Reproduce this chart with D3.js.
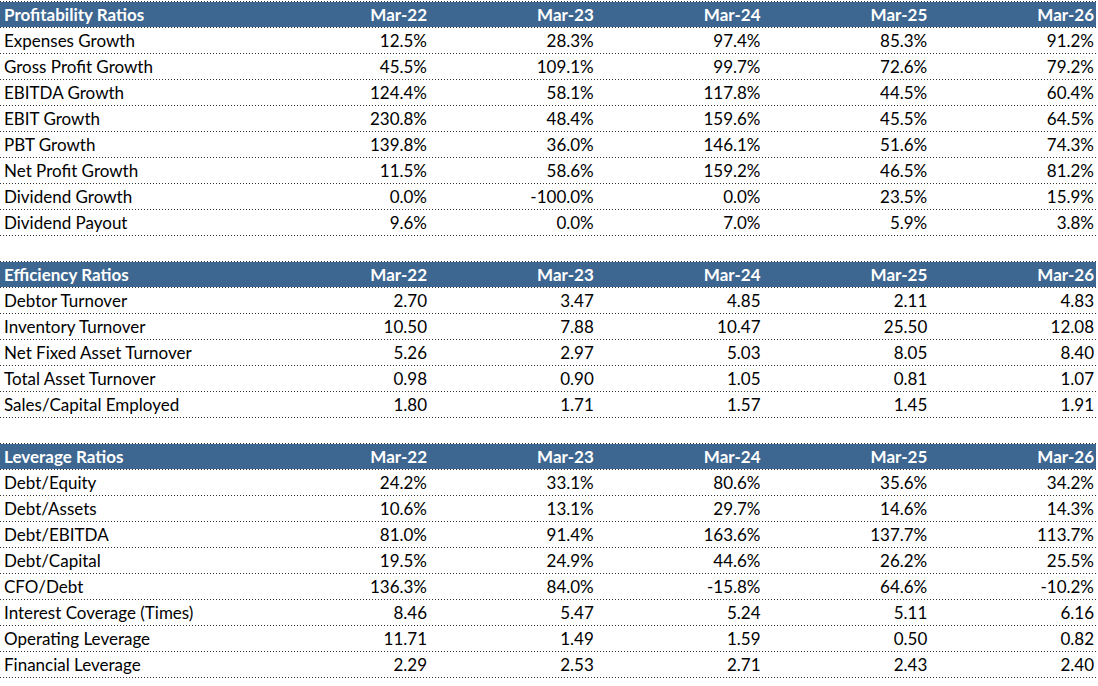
<!DOCTYPE html>
<html><head><meta charset="utf-8">
<script src="https://cdn.jsdelivr.net/npm/d3@7"></script>
<style>body{margin:0;background:#fff}</style></head>
<body><svg id="c" width="1098" height="686"></svg>
<script>
const periods = ["Mar-22","Mar-23","Mar-24","Mar-25","Mar-26"];
const profitabilityLabels = ["Expenses Growth","Gross Profit Growth","EBITDA Growth","EBIT Growth","PBT Growth","Net Profit Growth","Dividend Growth","Dividend Payout"];
const profitabilityValues = [
 ["12.5%","28.3%","97.4%","85.3%","91.2%"],
 ["45.5%","109.1%","99.7%","72.6%","79.2%"],
 ["124.4%","58.1%","117.8%","44.5%","60.4%"],
 ["230.8%","48.4%","159.6%","45.5%","64.5%"],
 ["139.8%","36.0%","146.1%","51.6%","74.3%"],
 ["11.5%","58.6%","159.2%","46.5%","81.2%"],
 ["0.0%","-100.0%","0.0%","23.5%","15.9%"],
 ["9.6%","0.0%","7.0%","5.9%","3.8%"]];
const efficiencyLabels = ["Debtor Turnover","Inventory Turnover","Net Fixed Asset Turnover","Total Asset Turnover","Sales/Capital Employed"];
const efficiencyValues = [
 ["2.70","3.47","4.85","2.11","4.83"],
 ["10.50","7.88","10.47","25.50","12.08"],
 ["5.26","2.97","5.03","8.05","8.40"],
 ["0.98","0.90","1.05","0.81","1.07"],
 ["1.80","1.71","1.57","1.45","1.91"]];
const leverageLabels = ["Debt/Equity","Debt/Assets","Debt/EBITDA","Debt/Capital","CFO/Debt","Interest Coverage (Times)","Operating Leverage","Financial Leverage"];
const leverageValues = [
 ["24.2%","33.1%","80.6%","35.6%","34.2%"],
 ["10.6%","13.1%","29.7%","14.6%","14.3%"],
 ["81.0%","91.4%","163.6%","137.7%","113.7%"],
 ["19.5%","24.9%","44.6%","26.2%","25.5%"],
 ["136.3%","84.0%","-15.8%","64.6%","-10.2%"],
 ["8.46","5.47","5.24","5.11","6.16"],
 ["11.71","1.49","1.59","0.50","0.82"],
 ["2.29","2.53","2.71","2.43","2.40"]];
const sections = [
 {title:"Profitability Ratios", labels:profitabilityLabels, values:profitabilityValues},
 {title:"Efficiency Ratios", labels:efficiencyLabels, values:efficiencyValues},
 {title:"Leverage Ratios", labels:leverageLabels, values:leverageValues}];

const rows = [];
sections.forEach((s,si)=>{
  if(si>0) rows.push({type:"blank"});
  rows.push({type:"head", label:s.title, cells:periods});
  s.labels.forEach((l,i)=>rows.push({type:"row", label:l, cells:s.values[i]}));
});
const y = d3.scaleBand().domain(d3.range(rows.length)).range([2, 2+26*rows.length]);
const x = d3.scalePoint().domain(periods).range([427,1094]);
const svg = d3.select("#c");
const font = "Lato, 'Open Sans', sans-serif";
rows.forEach((r,i)=>{
  if(r.type==="blank") return;
  const g = svg.append("g").attr("transform",`translate(0,${y(i)})`);
  if(r.type==="head"){
    g.append("rect").attr("x",0).attr("y",0).attr("width",1096).attr("height",25).attr("fill","#3d6690");
    g.append("line").attr("x1",0).attr("x2",1096).attr("y1",-0.5).attr("y2",-0.5).attr("stroke","#333").attr("stroke-dasharray","1,2");
  }
  g.append("line").attr("x1",0).attr("x2",1096).attr("y1",25.5).attr("y2",25.5)
   .attr("stroke", "#333").attr("stroke-dasharray","1,2");
  const head = r.type==="head";
  g.append("text").attr("x",4).attr("y",19).text(r.label)
   .attr("font-family",font).attr("font-size",17).attr("font-weight",head?"bold":"normal").attr("fill",head?"#fff":"#000");
  r.cells.forEach((c,j)=>{
    g.append("text").attr("x",x(periods[j])).attr("y",19).attr("text-anchor","end").text(c)
     .attr("font-family",font).attr("font-size",17).attr("font-weight",head?"bold":"normal").attr("fill",head?"#fff":"#000");
  });
});
</script></body></html>
